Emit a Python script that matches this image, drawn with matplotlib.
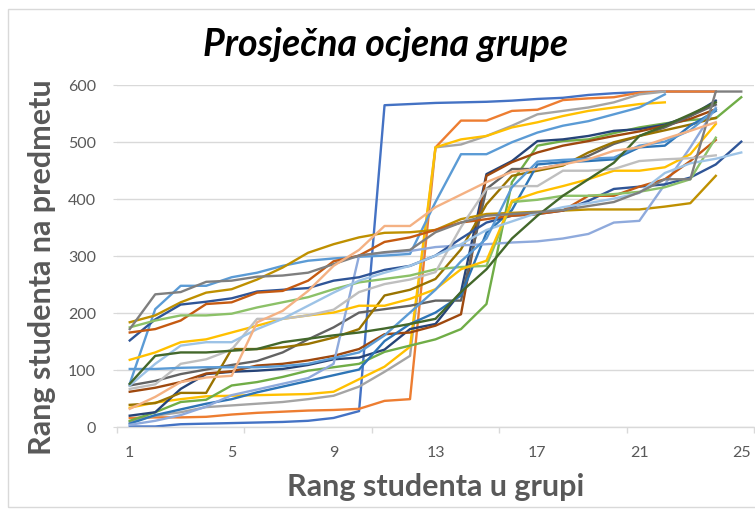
import numpy as np
import matplotlib
matplotlib.use("Agg")
import matplotlib.pyplot as plt
from matplotlib.patches import Rectangle

plt.rcParams['font.family'] = ['Lato', 'DejaVu Sans']

# Rank of each student within the group (x) vs rank in the subject (y), one line per group
g01 = [0, 0, 4, 5, 6, 7, 8, 10, 15, 27, 564, 566, 568, 569, 570, 572, 575, 577, 582, 585, 587, 588, 588, 588]
g02 = [15, 16, 16, 17, 21, 24, 26, 28, 29, 31, 45, 48, 490, 537, 537, 554, 556, 573, 576, 578, 586, 588, 588, 588]
g03 = [8, 19, 25, 34, 37, 40, 43, 48, 54, 70, 96, 124, 490, 495, 510, 528, 548, 554, 560, 569, 583, 588]
g04 = [33, 42, 48, 53, 54, 55, 56, 57, 61, 83, 105, 140, 490, 504, 510, 525, 534, 545, 554, 560, 566, 569]
g05 = [75, 206, 247, 247, 262, 270, 282, 291, 295, 298, 300, 303, 394, 478, 478, 499, 516, 528, 536, 548, 560, 583]
g06 = [10, 25, 43, 47, 72, 78, 87, 98, 104, 110, 131, 142, 153, 171, 215, 429, 493, 501, 504, 515, 525, 532, 538, 541, 578]
g07 = [19, 25, 66, 92, 96, 98, 101, 108, 118, 121, 135, 171, 180, 236, 443, 466, 501, 504, 510, 519, 522, 530, 545, 572]
g08 = [61, 68, 78, 93, 97, 107, 110, 116, 124, 136, 162, 165, 177, 197, 440, 464, 481, 493, 501, 510, 518, 528, 540, 557]
g09 = [72, 80, 92, 100, 108, 115, 130, 153, 174, 200, 206, 212, 221, 221, 417, 452, 452, 460, 475, 496, 510, 525, 545, 565]
g10 = [38, 41, 59, 59, 136, 136, 139, 145, 156, 171, 230, 240, 259, 311, 390, 440, 449, 458, 481, 499, 510, 520, 530, 542]
g11 = [5, 20, 30, 40, 48, 60, 70, 80, 90, 100, 150, 180, 200, 230, 340, 380, 460, 464, 466, 469, 490, 493, 528, 554]
g12 = [183, 195, 218, 235, 241, 258, 279, 305, 320, 332, 340, 341, 345, 364, 373, 375, 377, 379, 381, 381, 381, 386, 392, 440]
g13 = [3, 10, 20, 35, 55, 65, 75, 85, 110, 300, 305, 308, 315, 318, 320, 323, 325, 330, 338, 358, 361, 425, 490, 560]
g14 = [151, 188, 214, 219, 225, 237, 240, 243, 256, 262, 275, 282, 300, 330, 358, 370, 373, 379, 396, 417, 421, 425, 437, 460, 500]
g15 = [165, 171, 186, 215, 218, 235, 238, 256, 290, 300, 324, 332, 345, 358, 364, 370, 373, 379, 405, 405, 421, 434, 466, 503]
g16 = [174, 186, 195, 195, 198, 209, 218, 227, 241, 253, 259, 265, 276, 280, 282, 394, 398, 405, 405, 408, 412, 420, 434, 507]
g17 = [117, 130, 148, 153, 165, 177, 189, 195, 200, 212, 212, 224, 241, 276, 291, 396, 411, 422, 434, 449, 449, 455, 478, 531]
g18 = [66, 74, 110, 118, 135, 189, 189, 195, 205, 236, 250, 258, 271, 350, 417, 422, 422, 449, 449, 452, 466, 469, 471, 476]
g19 = [72, 110, 142, 148, 148, 171, 189, 212, 235, 256, 270, 282, 300, 320, 345, 360, 375, 385, 392, 400, 410, 445, 462, 470, 481]
g20 = [101, 101, 103, 104, 104, 104, 106, 110, 120, 130, 160, 200, 240, 290, 330, 420, 465, 468, 470, 472, 493, 500, 520, 557]
g21 = [75, 124, 130, 130, 133, 136, 148, 154, 160, 165, 172, 180, 189, 236, 276, 330, 370, 405, 434, 463, 510, 528, 548, 569]
g22 = [171, 232, 236, 254, 256, 263, 265, 270, 285, 300, 306, 310, 341, 358, 370, 373, 376, 380, 387, 394, 411, 434, 434, 588, 588]
g23 = [31, 52, 78, 86, 89, 183, 203, 238, 282, 310, 352, 352, 385, 407, 429, 447, 452, 460, 469, 484, 490, 505, 519, 534]

groups = [g01, g02, g03, g04, g05, g06, g07, g08, g09, g10, g11, g12,
          g13, g14, g15, g16, g17, g18, g19, g20, g21, g22, g23]
colors = ['#4472C4', '#ED7D31', '#A5A5A5', '#FFC000', '#5B9BD5', '#70AD47',
          '#264478', '#9E480E', '#636363', '#997300', '#2E75B6', '#BF9000',
          '#8FAADC', '#2F5597', '#C55A11', '#8CC168', '#FFC000', '#BFBFBF',
          '#9DC3E6', '#5B9BD5', '#43682B', '#7F7F7F', '#F4B183']

x_ticks = [1, 5, 9, 13, 17, 21, 25]
y_ticks = [0, 100, 200, 300, 400, 500, 600]

W, H = 755, 510
fig = plt.figure(figsize=(W / 100, H / 100), dpi=100)
fig.patch.set_facecolor('white')

# chart border
fig.add_artist(Rectangle((8 / W, 2 / H), 1.0, (508 - 10) / H, transform=fig.transFigure,
                         fill=False, edgecolor='#D9D9D9', linewidth=1.0))

left, right, top, bottom = 117, 754, 85.7, 427.5
ax = fig.add_axes([left / W, 1 - bottom / H, (right - left) / W, (bottom - top) / H])

for vals, c in zip(groups, colors):
    xs = np.arange(1, len(vals) + 1)
    ax.plot(xs, vals, color=c, linewidth=1.7, solid_joinstyle='round')

ax.set_xlim(0.5, 25.5)
ax.set_ylim(0, 600)
ax.set_yticks(y_ticks)
ax.set_xticks(x_ticks)
ax.set_xticks(np.arange(0.5, 26, 5), minor=True)
ax.grid(axis='y', color='#D9D9D9', linewidth=1.0)
ax.set_axisbelow(True)
for s in ['top', 'right', 'left']:
    ax.spines[s].set_visible(False)
ax.spines['bottom'].set_color('#D9D9D9')
ax.spines['bottom'].set_linewidth(1.0)

ax.tick_params(axis='x', which='major', length=0, pad=13, labelsize=11.5, labelcolor='#595959')
ax.tick_params(axis='x', which='minor', length=4, color='#D9D9D9', width=1.0)
ax.tick_params(axis='y', length=3, color='#D9D9D9', pad=12, labelsize=11.5, labelcolor='#595959')

ax.set_xlabel('Rang studenta u grupi', fontsize=22, fontweight='bold', color='#595959', labelpad=10)
ax.set_ylabel('Rang studenta na predmetu', fontsize=22, fontweight='bold', color='#595959')
ax.yaxis.set_label_coords(-0.096, 0.47)

fig.text(386 / W, 1 - 45 / H, 'Prosječna ocjena grupe', ha='center', va='center',
         fontsize=27, fontweight='bold', fontstyle='italic', color='black')

fig.savefig('out.png', dpi=100)
